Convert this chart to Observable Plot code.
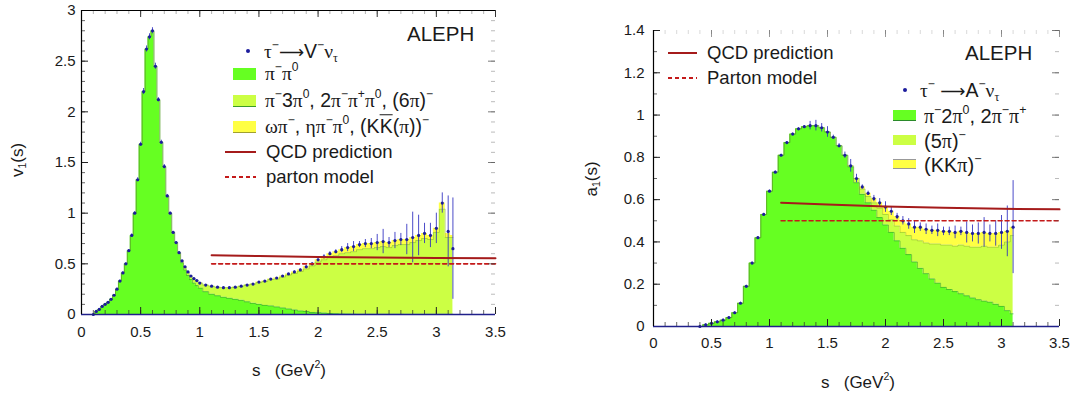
<!DOCTYPE html>
<html>
<head>
<meta charset="utf-8">
<script src="https://cdn.jsdelivr.net/npm/d3@7"></script>
<script src="https://cdn.jsdelivr.net/npm/@observablehq/plot@0.6"></script>
<style>
  html, body { margin: 0; padding: 0; background: #fff; }
  #wrap { position: relative; width: 1074px; height: 396px; overflow: hidden;
          font-family: "Liberation Sans", Arial, Helvetica, sans-serif; color: #1a1a1a; }
  #wrap svg { position: absolute; top: 0; }
  .t { position: absolute; white-space: nowrap; line-height: 1; transform: translateY(-50%); }
  .rot { position: absolute; white-space: nowrap; line-height: 1; transform: translate(-50%, -50%) rotate(-90deg); }
  .ctr { position: absolute; white-space: nowrap; line-height: 1; transform: translate(-50%, -50%); }
  .g { font-family: "Liberation Serif", "DejaVu Serif", serif; }
  .ar { font-family: "DejaVu Sans", sans-serif; font-size: 90%; }
  sup, sub { font-size: 62%; line-height: 0; }
  sup { vertical-align: 0.75em; }
  sub { vertical-align: -0.3em; }
  .ov { text-decoration: overline; }
  .sw { position: absolute; }
</style>
</head>
<body>
<div id="wrap"></div>
<script>
// ---------------- data: vector spectral function v1(s) ----------------
const vS = [0.100,0.125,0.150,0.175,0.200,0.225,0.250,0.275,0.300,0.325,0.350,0.375,0.400,0.425,0.450,0.475,0.500,0.525,0.550,0.575,0.600,0.625,0.650,0.675,0.700,0.725,0.750,0.775,0.800,0.825,0.850,0.875,0.900,0.925,0.950,0.975,1.000,
  1.05,1.10,1.15,1.20,1.25,1.30,1.35,1.40,1.45,1.50,1.55,1.60,1.65,1.70,1.75,1.80,1.85,1.90,1.95,2.00,2.05,2.10,2.15,2.20,2.25,2.30,2.35,2.40,2.45,2.50,2.55,2.60,2.65,2.70,2.75,2.80,2.85,2.90,2.95,3.00,3.05,3.10,3.14];
// pi- pi0
const vPiPi = [0.00,0.03,0.05,0.08,0.10,0.12,0.15,0.19,0.25,0.33,0.41,0.50,0.63,0.78,1.00,1.33,1.68,2.20,2.62,2.74,2.80,2.45,2.12,1.70,1.46,1.17,1.00,0.81,0.71,0.61,
  0.51,0.44,0.385,0.345,0.31,0.285,0.26,
  0.225,0.20,0.185,0.17,0.16,0.15,0.14,0.125,0.11,0.10,0.09,0.085,0.075,0.065,0.055,0.045,0.035,0.03,0.02,0.018,0.014,0.01,0.008,0.006,0.005,0.004,0.003,0.003,0.003,0.003,0.003,0.003,0.003,0.003,0.002,0.002,0.002,0.002,0.002,0.002,0.002,0.002,
  0.002];
// pi- 3pi0, 2pi- pi+ pi0, (6pi)-
const vFourPi = [0,0,0,0,0,0,0,0,0,0,0,0,0,0,0,0,0,0,0,0,0,0,0,0,0,0,0,0,0,0,
  0.02,0.03,0.035,0.035,0.045,0.05,0.05,
  0.065,0.08,0.085,0.095,0.105,0.12,0.14,0.165,0.19,0.215,0.235,0.26,0.275,0.305,0.335,0.36,0.39,0.42,0.46,0.50,0.526,0.56,0.572,0.594,0.605,0.616,0.637,0.647,0.647,0.657,0.667,0.657,0.677,0.687,0.688,0.708,0.728,0.748,0.738,0.808,1.038,0.758,
  0.758];
// omega pi-, eta pi- pi0, (K Kbar (pi))-
const vOther = [0,0,0,0,0,0,0,0,0,0,0,0,0,0,0,0,0,0,0,0,0,0,0,0,0,0,0,0,0,0,
  0,0,0,0,0,0,0,
  0,0,0,0,0,0,0,0,0,0.005,0.005,0.005,0.01,0.01,0.01,0.015,0.015,0.02,0.02,0.022,0.03,0.03,0.04,0.04,0.05,0.05,0.05,0.05,0.05,0.05,0.05,0.05,0.05,0.05,0.05,0.05,0.05,0.05,0.04,0.04,0.06,0.04,
  0.02];
// measured points tau -> V- nu
const vData = [0.00,0.03,0.05,0.08,0.10,0.12,0.15,0.19,0.25,0.33,0.41,0.50,0.63,0.78,1.00,1.33,1.68,2.20,2.62,2.74,2.80,2.45,2.12,1.70,1.46,1.17,1.00,0.81,0.71,0.61,
  0.53,0.47,0.42,0.38,0.355,0.335,0.31,
  0.29,0.28,0.27,0.265,0.265,0.27,0.28,0.29,0.30,0.32,0.33,0.35,0.36,0.38,0.40,0.42,0.44,0.47,0.50,0.54,0.57,0.60,0.62,0.64,0.66,0.67,0.69,0.70,0.70,0.71,0.72,0.71,0.73,0.74,0.74,0.76,0.78,0.80,0.78,0.85,1.10,0.82,
  0.65];
const vErr = [0.005,0.005,0.005,0.005,0.005,0.005,0.005,0.005,0.01,0.01,0.01,0.01,0.01,0.015,0.015,0.02,0.02,0.03,0.03,0.03,0.03,0.03,0.02,0.02,0.02,0.015,0.01,0.01,0.01,0.01,
  0.005,0.005,0.005,0.005,0.005,0.005,0.005,
  0.005,0.005,0.005,0.005,0.005,0.005,0.005,0.005,0.005,0.005,0.005,0.005,0.005,0.005,0.005,0.01,0.01,0.01,0.01,0.01,0.02,0.02,0.02,0.03,0.04,0.05,0.03,0.04,0.05,0.08,0.12,0.05,0.08,0.06,0.15,0.25,0.2,0.1,0.12,0.15,0.1,0.35,
  0.5];

// ---------------- data: axial-vector spectral function a1(s) ----------------
const aS = [0.40,0.45,0.50,0.55,0.60,0.65,0.70,0.75,0.80,0.85,0.90,0.95,1.00,1.05,1.10,1.15,1.20,1.25,1.30,1.35,1.40,1.45,1.50,1.55,1.60,1.65,1.70,1.75,1.80,1.85,1.90,1.95,2.00,2.05,2.10,2.15,2.20,2.25,2.30,2.35,2.40,2.45,2.50,2.55,2.60,2.65,2.70,2.75,2.80,2.85,2.90,2.95,3.00,3.05,3.10];
// pi- 2pi0, 2pi- pi+
const aThreePi = [0.000,0.008,0.015,0.022,0.030,0.042,0.065,0.11,0.19,0.30,0.42,0.53,0.64,0.73,0.81,0.87,0.91,0.935,0.945,0.95,0.95,0.94,0.92,0.895,0.855,0.81,
  0.755,0.68,0.625,0.585,0.55,0.515,0.48,0.445,0.405,0.37,0.34,0.305,0.275,0.25,0.225,0.205,0.185,0.175,0.165,0.155,0.145,0.135,0.127,0.12,0.115,0.105,0.095,0.075,0.06];
// (5pi)-
const aFivePi = [0,0,0,0,0,0,0,0,0,0,0,0,0,0,0,0,0,0,0,0,0,0,0,0,0,0,
  0.005,0.02,0.025,0.03,0.035,0.045,0.05,0.06,0.07,0.075,0.09,0.105,0.13,0.145,0.165,0.185,0.20,0.21,0.215,0.23,0.235,0.24,0.248,0.26,0.26,0.27,0.29,0.325,0.37];
// (K K pi)-
const aKKPi = [0,0,0,0,0,0,0,0,0,0,0,0,0,0,0,0,0,0,0,0,0,0,0,0,0,0,
  0,0,0.01,0.015,0.02,0.025,0.035,0.04,0.045,0.05,0.055,0.06,0.065,0.065,0.065,0.065,0.065,0.065,0.065,0.065,0.065,0.065,0.065,0.065,0.065,0.065,0.06,0.05,0.04];
// measured points tau -> A- nu
const aData = [0.000,0.008,0.015,0.022,0.030,0.042,0.065,0.11,0.19,0.30,0.42,0.53,0.64,0.73,0.81,0.87,0.91,0.935,0.945,0.95,0.95,0.94,0.92,0.895,0.855,0.81,
  0.76,0.70,0.66,0.63,0.605,0.585,0.565,0.545,0.52,0.50,0.485,0.47,0.47,0.46,0.455,0.455,0.45,0.45,0.445,0.45,0.445,0.44,0.44,0.445,0.44,0.44,0.445,0.45,0.47];
const aErr = [0.005,0.005,0.005,0.005,0.005,0.005,0.005,0.005,0.005,0.005,0.005,0.005,0.005,0.005,0.005,0.005,0.005,0.005,0.005,
  0.02,0.025,0.02,0.025,0.01,0.01,0.015,0.03,0.02,0.01,0.01,0.015,0.02,0.025,0.02,0.015,0.02,0.025,0.03,0.02,0.025,0.02,0.03,0.02,0.02,0.03,0.02,0.05,0.04,0.05,0.07,0.04,0.06,0.08,0.12,0.22];

// ---------------- theory lines ----------------
const qcdS = [1.1, 1.5, 2.0, 2.5, 3.0, 3.5];
const qcdV = [0.585, 0.577, 0.568, 0.562, 0.557, 0.554];
const partonS = [1.1, 3.5];
const partonV = [0.5, 0.5];

// ---------------- ticks ----------------
const xTicks = [0, 0.5, 1, 1.5, 2, 2.5, 3, 3.5];
const vTicks = [0, 0.5, 1, 1.5, 2, 2.5, 3];
const aTicks = [0, 0.2, 0.4, 0.6, 0.8, 1, 1.2, 1.4];

// ---------------- styling ----------------
const FONT = '"Liberation Sans", Arial, Helvetica, sans-serif';
const C_GREEN = "#66ff22", C_LGREEN = "#ccff44", C_YELLOW = "#ffff44";
const C_DOT = "#1c1c9c", C_ERR = "#2d2dbf", C_QCD = "#a51b1b", C_PARTON = "#c41a1a";

const vComps = ["π⁻π⁰", "π⁻3π⁰, 2π⁻π⁺π⁰, (6π)⁻", "ωπ⁻, ηπ⁻π⁰, (KK̄(π))⁻"];
const aComps = ["π⁻2π⁰, 2π⁻π⁺", "(5π)⁻", "(KKπ)⁻"];

function longTable(s, layers) {
  const out = [];
  s.forEach((x, i) => layers.forEach(([name, vals]) => out.push({s: x, comp: name, v: vals[i]})));
  return out;
}
function points(s, v, e) { return s.map((x, i) => ({s: x, v: v[i], e: e[i]})); }

// inward frame ticks drawn as insetted tick marks
function frameTicks(xMaj, yMaj, yStep, yMax, pw, ph, topOpacity) {
  const xMin = d3.range(0, 3.5 + 1e-9, 0.1);
  const yMin = d3.range(0, yMax + 1e-9, yStep);
  const MAJ = 7, MIN = 4;
  return [
    Plot.tickX(xMin, {x: d => d, insetTop: ph - MIN, stroke: "#333", strokeOpacity: 0.75}),
    Plot.tickX(xMaj, {x: d => d, insetTop: ph - MAJ, stroke: "#222"}),
    Plot.tickX(xMin, {x: d => d, insetBottom: ph - MIN, stroke: "#555", strokeOpacity: 0.45 * topOpacity}),
    Plot.tickX(xMaj, {x: d => d, insetBottom: ph - MAJ, stroke: "#333", strokeOpacity: topOpacity}),
    Plot.tickY(yMin, {y: d => d, insetRight: pw - MIN, stroke: "#333", strokeOpacity: 0.75}),
    Plot.tickY(yMaj, {y: d => d, insetRight: pw - MAJ, stroke: "#222"}),
    Plot.tickY(yMin, {y: d => d, insetLeft: pw - MIN, stroke: "#555", strokeOpacity: 0.4}),
    Plot.tickY(yMaj, {y: d => d, insetLeft: pw - MAJ, stroke: "#444", strokeOpacity: 0.7})
  ];
}

function panel({S, L1, L2, L3, D, E, comps, yMax, yTicks, yStep, width, margins, xPad, yPad, topLine}) {
  const table = longTable(S, [[comps[0], L1], [comps[1], L2], [comps[2], L3]]);
  const pts = points(S, D, E);
  const qcd = qcdS.map((s, i) => ({s, v: qcdV[i]}));
  const parton = partonS.map((s, i) => ({s, v: partonV[i]}));
  const pw = width - margins.marginLeft - margins.marginRight;
  const ph = 396 - margins.marginTop - margins.marginBottom;
  return Plot.plot({
    width, height: 396,
    ...margins,
    x: {domain: [0, 3.5]},
    y: {domain: [0, yMax]},
    color: {domain: comps, range: [C_GREEN, C_LGREEN, C_YELLOW]},
    style: {fontFamily: FONT, fontSize: "15px", color: "#1a1a1a", background: "transparent", overflow: "visible"},
    marks: [
      Plot.areaY(table, {x: "s", y: "v", fill: "comp", curve: "step"}),
      Plot.lineY(S.map((s, i) => ({s, v: L1[i]})), {x: "s", y: "v", curve: "step", stroke: "#2e9a2e", strokeWidth: 0.7, strokeOpacity: 0.8}),
      Plot.lineY(S.map((s, i) => ({s, v: L1[i] + L2[i]})), {x: "s", y: "v", curve: "step", stroke: "#7fa020", strokeWidth: 0.6, strokeOpacity: 0.7}),
      Plot.ruleX(pts, {x: "s", y1: d => d.v - d.e, y2: d => d.v + d.e, stroke: C_ERR, strokeWidth: 1, strokeOpacity: 0.85}),
      Plot.dot(pts, {x: "s", y: "v", r: 1.6, fill: C_DOT, stroke: "none"}),
      Plot.line(qcd, {x: "s", y: "v", stroke: C_QCD, strokeWidth: 2}),
      Plot.line(parton, {x: "s", y: "v", stroke: C_PARTON, strokeWidth: 1.6, strokeDasharray: "4,3"}),
      ...frameTicks(xTicks, yTicks, yStep, yMax, pw, ph, topLine ? 1 : 0.5),
      Plot.ruleY([0], {stroke: "#20208a", strokeWidth: 1.3}),
      Plot.ruleX([0], {stroke: "#000", strokeWidth: 1.2}),
      ...(topLine ? [Plot.ruleY([yMax], {stroke: "#000", strokeWidth: 1})] : []),
      Plot.axisY({ticks: yTicks, tickSize: 0, tickPadding: yPad, label: null, tickFormat: d => String(d)}),
      Plot.axisX({ticks: xTicks, tickSize: 0, tickPadding: xPad, label: null, tickFormat: d => String(d)})
    ]
  });
}

const wrap = document.getElementById("wrap");

const left = panel({
  S: vS, L1: vPiPi, L2: vFourPi, L3: vOther, D: vData, E: vErr, comps: vComps,
  yMax: 3, yTicks: vTicks, yStep: 0.1, width: 530,
  margins: {marginLeft: 81, marginRight: 35, marginTop: 10, marginBottom: 82},
  xPad: 12, yPad: 6, topLine: true
});
left.style.left = "0px";
wrap.appendChild(left);

const right = panel({
  S: aS, L1: aThreePi, L2: aFivePi, L3: aKKPi, D: aData, E: aErr, comps: aComps,
  yMax: 1.4, yTicks: aTicks, yStep: 0.1, width: 534,
  margins: {marginLeft: 113, marginRight: 15, marginTop: 30, marginBottom: 70},
  xPad: 11, yPad: 9, topLine: false
});
right.style.left = "540px";
wrap.appendChild(right);

// ---------------- text overlays (titles, legends) ----------------
function el(cls, html, x, y, size, extra = "") {
  const d = document.createElement("div");
  d.className = cls;
  d.innerHTML = html;
  d.style.cssText += `left:${x}px;top:${y}px;font-size:${size}px;${extra}`;
  wrap.appendChild(d);
  return d;
}
function box(x, y, w, h, css) {
  const d = document.createElement("div");
  d.className = "sw";
  d.style.cssText = `left:${x}px;top:${y}px;width:${w}px;height:${h}px;${css}`;
  wrap.appendChild(d);
}
const g = s => `<span class="g">${s}</span>`;
const arrow = `<span class="ar">⟶</span>`;
const solid = `background:${C_QCD};`;
const dashed = `background:repeating-linear-gradient(to right, ${C_PARTON} 0 4px, transparent 4px 7px);`;
const dotCss = `background:${C_DOT};border-radius:50%;`;

// left panel
el("rot", `v<sub>1</sub>(s)`, 17, 160, 17);
el("ctr", `s&nbsp;&nbsp;&nbsp;(GeV<sup>2</sup>)`, 289, 370, 17);
el("t", "ALEPH", 407, 34, 20.5);
box(246, 49, 4, 4, dotCss);
el("t", `${g("τ")}<sup>−</sup>${arrow}V<sup>−</sup>${g("ν")}<sub>${g("τ")}</sub>`, 264, 52, 19.5);
box(233, 68, 23, 12, `background:${C_GREEN};`);
el("t", `${g("π")}<sup>−</sup>${g("π")}<sup>0</sup>`, 265, 74, 19.5);
box(233, 95, 23, 12, `background:${C_LGREEN};border-bottom:1.5px solid #3a9a2a;box-sizing:border-box;`);
el("t", `${g("π")}<sup>−</sup>3${g("π")}<sup>0</sup>, 2${g("π")}<sup>−</sup>${g("π")}<sup>+</sup>${g("π")}<sup>0</sup>, (6${g("π")})<sup>−</sup>`, 265, 101, 19.5);
box(233, 121, 23, 12, `background:${C_YELLOW};border-bottom:1.5px solid #a0a030;box-sizing:border-box;`);
el("t", `${g("ωπ")}<sup>−</sup>, ${g("ηπ")}<sup>−</sup>${g("π")}<sup>0</sup>, (K<span class="ov">K</span>(${g("π")}))<sup>−</sup>`, 265, 127, 19.5);
box(225, 151, 31, 2, solid);
el("t", "QCD prediction", 266, 152, 18.5);
box(225, 176, 31, 2, dashed);
el("t", "parton model", 266, 177, 18.5);

// right panel
el("rot", `a<sub>1</sub>(s)`, 591, 179, 17);
el("ctr", `s&nbsp;&nbsp;&nbsp;(GeV<sup>2</sup>)`, 858, 382, 17);
el("t", "ALEPH", 965, 53, 20.5);
box(668, 52, 29, 2, solid);
el("t", "QCD prediction", 707, 53, 18.5);
box(668, 77, 29, 2, dashed);
el("t", "Parton model", 707, 78, 18.5);
box(903, 88, 4, 4, dotCss);
el("t", `${g("τ")}<sup>−</sup> ${arrow}A<sup>−</sup>${g("ν")}<sub>${g("τ")}</sub>`, 920, 91, 19.5);
box(893, 110, 23, 11, `background:${C_GREEN};border-bottom:1.5px solid #2a8a2a;box-sizing:border-box;`);
el("t", `${g("π")}<sup>−</sup>2${g("π")}<sup>0</sup>, 2${g("π")}<sup>−</sup>${g("π")}<sup>+</sup>`, 924, 116, 20);
box(893, 135, 23, 10, `background:${C_LGREEN};`);
el("t", `(5${g("π")})<sup>−</sup>`, 924, 141, 20);
box(893, 159, 23, 10, `background:${C_YELLOW};border-top:1px solid #999;border-bottom:1px solid #999;box-sizing:border-box;`);
el("t", `(KK${g("π")})<sup>−</sup>`, 924, 165, 20);
</script>
</body>
</html>
